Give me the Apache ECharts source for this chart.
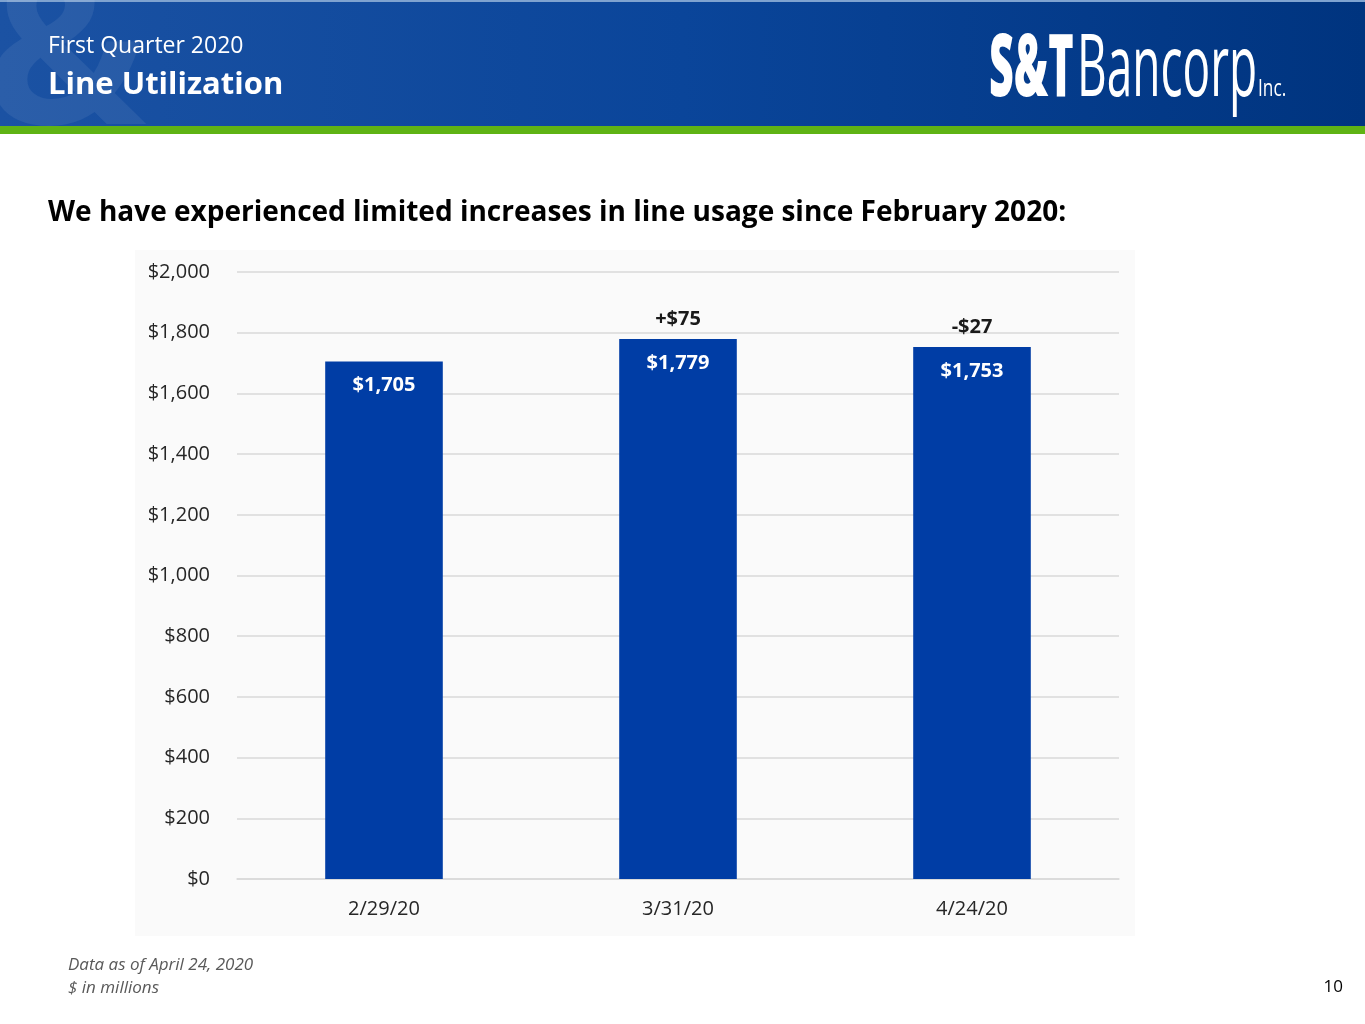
<!DOCTYPE html>
<html><head><meta charset="utf-8">
<script src="https://cdn.jsdelivr.net/npm/echarts@6/dist/echarts.min.js"></script>
<style>html,body{margin:0;padding:0;background:#fff}#c{width:1365px;height:1024px}</style>
</head><body><div id="c"></div>
<script>
const categories = ['2/29/20', '3/31/20', '4/24/20'];
const lineUsage = [1705, 1779, 1753];
const changeLabels = ['', '+$75', '-$27'];
const yTicks = [0, 200, 400, 600, 800, 1000, 1200, 1400, 1600, 1800, 2000];

const fmt = v => '$' + v.toLocaleString('en-US');
const F = '"Open Sans", Lato, sans-serif';

const chart = echarts.init(document.getElementById('c'));
chart.setOption({
  animation: false,
  backgroundColor: '#ffffff',
  grid: { left: 237, right: 246, top: 272, bottom: 145, containLabel: false },
  xAxis: {
    type: 'category', data: categories,
    axisLine: { lineStyle: { color: '#d9d9d9', width: 1.5 } },
    axisTick: { show: false },
    axisLabel: { color: '#262626', fontFamily: F, fontSize: 20, margin: 20 }
  },
  yAxis: {
    type: 'value', min: yTicks[0], max: yTicks[yTicks.length - 1], interval: 200,
    axisLine: { show: false }, axisTick: { show: false },
    splitLine: { lineStyle: { color: '#d9d9d9', width: 1.5 } },
    axisLabel: { color: '#262626', fontFamily: F, fontSize: 20, margin: 27, formatter: v => fmt(v) }
  },
  series: [
    {
      type: 'bar', data: lineUsage, barWidth: '40%',
      itemStyle: { color: '#003da5' },
      label: { show: true, position: 'insideTop', distance: 14, color: '#ffffff',
        fontFamily: F, fontWeight: 'bold', fontSize: 20, formatter: p => fmt(p.value) },
      z: 2
    },
    {
      type: 'bar', data: lineUsage, barWidth: '40%', barGap: '-100%',
      itemStyle: { color: 'rgba(0,0,0,0)' },
      label: { show: true, position: 'top', distance: 10, color: '#1a1a1a',
        fontFamily: F, fontWeight: 'bold', fontSize: 20, formatter: p => changeLabels[p.dataIndex] },
      z: 3, silent: true
    }
  ],
  graphic: [
    { type: 'rect', z: -10, shape: { x: 135, y: 250, width: 1000, height: 686 }, style: { fill: '#fafafa' } },
    { type: 'rect', z: 0, shape: { x: 0, y: 0, width: 1365, height: 127 },
      style: { fill: new echarts.graphic.LinearGradient(0, 0, 1, 0, [
        { offset: 0, color: '#1b52a3' }, { offset: 0.5, color: '#0a459a' }, { offset: 1, color: '#00347f' }]) } },
    { type: 'rect', z: 1, shape: { x: 0, y: 0, width: 1365, height: 2 }, style: { fill: '#7fa3d0' } },
    { type: 'text', z: 1, left: -15, top: -45, style: { text: '&', font: 'bold 215px ' + F, fill: 'rgba(255,255,255,0.07)' } },
    { type: 'rect', z: 1, shape: { x: 0, y: 126, width: 1365, height: 8 }, style: { fill: '#5fb314' } },
    { type: 'text', z: 2, left: 48, top: 35, style: { text: 'First Quarter 2020', font: '23px ' + F, fill: '#ffffff' } },
    { type: 'text', z: 2, left: 48, top: 70, style: { text: 'Line Utilization', font: 'bold 31px ' + F, fill: '#ffffff' } },
    { type: 'text', z: 2, x: 989, y: 28, scaleX: 0.5, style: { text: 'S&T', font: '800 86px ' + F, fill: '#ffffff' } },
    { type: 'text', z: 2, x: 1077, y: 28, scaleX: 0.535, style: { text: 'Bancorp', font: '86px ' + F, fill: '#ffffff' } },
    { type: 'text', z: 2, x: 1258, y: 78, scaleX: 0.75, style: { text: 'Inc.', font: '23px ' + F, fill: '#ffffff' } },
    { type: 'text', z: 2, left: 48, top: 199, style: { text: 'We have experienced limited increases in line usage since February 2020:', font: 'bold 28px ' + F, fill: '#000000' } },
    { type: 'text', z: 2, left: 68, top: 957, style: { text: 'Data as of April 24, 2020', font: 'italic 17px ' + F, fill: '#595959' } },
    { type: 'text', z: 2, left: 68, top: 980, style: { text: '$ in millions', font: 'italic 17px ' + F, fill: '#595959' } },
    { type: 'text', z: 2, right: 22, top: 979, style: { text: '10', font: '17px ' + F, fill: '#000000' } }
  ]
});
</script></body></html>
